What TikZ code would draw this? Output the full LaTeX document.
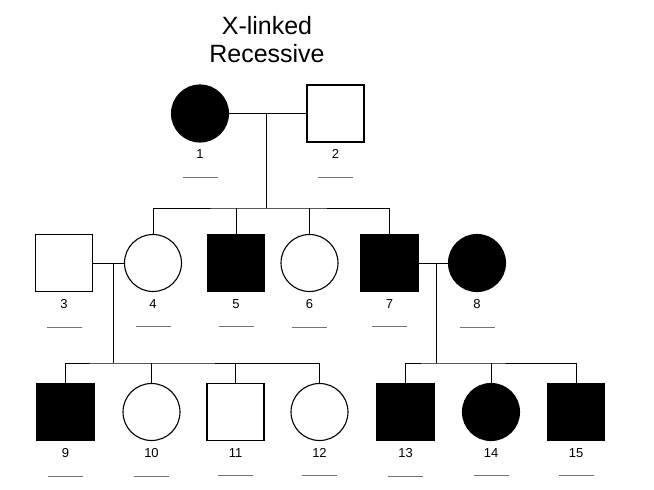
\documentclass[tikz,border=0pt]{standalone}
\usepackage{fontspec}
\setsansfont{Liberation Sans}
\usetikzlibrary{positioning}

\begin{document}
\begin{tikzpicture}[x=1pt, y=-1pt, line width=1pt, font=\sffamily]
    \tikzstyle{male}=[draw=black, rectangle, fill=white, minimum size=57pt, inner sep=0pt, line width=1.1pt]
    \tikzstyle{female}=[draw=black, circle, fill=white, minimum size=57pt, inner sep=0pt, line width=1.1pt]
    \tikzstyle{aff}=[fill=black]
    \tikzstyle{num}=[inner sep=0pt, font=\sffamily\fontsize{13}{15}\selectfont]
    \tikzstyle{bar}=[fill=black!55, minimum width=35pt, minimum height=0.8pt, inner sep=0pt]

    \useasboundingbox (0,0) rectangle (654,490);

    \node[align=center, font=\sffamily\fontsize{25}{28}\selectfont] (title) at (267,39.5) {X-linked\\Recessive};

    % generation I
    \node[female, aff] (p1) at (200,113.5) {};
    \node[male] (p2) at (335.5,113.5) {};

    % generation II
    \node[male] (p3) at (64,263) {};
    \node[female] (p4) at (153,263) {};
    \node[male, aff] (p5) at (236,263) {};
    \node[female] (p6) at (309.5,263) {};
    \node[male, aff] (p7) at (389.5,263) {};
    \node[female, aff] (p8) at (477,263) {};

    % generation III
    \node[male, aff] (p9) at (65.5,412) {};
    \node[female] (p10) at (151.5,412) {};
    \node[male] (p11) at (235.5,412) {};
    \node[female] (p12) at (319.5,412) {};
    \node[male, aff] (p13) at (405.5,412) {};
    \node[female, aff] (p14) at (491,412) {};
    \node[male, aff] (p15) at (576,412) {};

    % numbers and blanks
    \node[num, below=6.8pt of p1] (l1) {1};
    \node[num, below=6.8pt of p2] (l2) {2};
    \node[num, below=6.8pt of p3] (l3) {3};
    \node[num, below=6.8pt of p4] (l4) {4};
    \node[num, below=6.8pt of p5] (l5) {5};
    \node[num, below=6.8pt of p6] (l6) {6};
    \node[num, below=6.8pt of p7] (l7) {7};
    \node[num, below=6.8pt of p8] (l8) {8};
    \node[num, below=6.8pt of p9] (l9) {9};
    \node[num, below=6.8pt of p10] (l10) {10};
    \node[num, below=6.8pt of p11] (l11) {11};
    \node[num, below=6.8pt of p12] (l12) {12};
    \node[num, below=6.8pt of p13] (l13) {13};
    \node[num, below=6.8pt of p14] (l14) {14};
    \node[num, below=6.8pt of p15] (l15) {15};

    \node[bar, below=17pt of l1] (b1) {};
    \node[bar, below=17pt of l2] (b2) {};
    \node[bar, below=17pt of l3] (b3) {};
    \node[bar, below=17pt of l4] (b4) {};
    \node[bar, below=17pt of l5] (b5) {};
    \node[bar, below=17pt of l6] (b6) {};
    \node[bar, below=17pt of l7] (b7) {};
    \node[bar, below=17pt of l8] (b8) {};
    \node[bar, below=17pt of l9] (b9) {};
    \node[bar, below=17pt of l10] (b10) {};
    \node[bar, below=17pt of l11] (b11) {};
    \node[bar, below=17pt of l12] (b12) {};
    \node[bar, below=17pt of l13] (b13) {};
    \node[bar, below=17pt of l14] (b14) {};
    \node[bar, below=17pt of l15] (b15) {};

    % couples and sibships
    \coordinate (m12) at (266,113.5);
    \coordinate (s1) at (266,208);
    \coordinate (m34) at (113,263);
    \coordinate (s2) at (113,363);
    \coordinate (m78) at (436,263);
    \coordinate (s3) at (436,363);

    \draw (p1) -- (p2);
    \draw (m12) -- (s1);
    \draw (p4.north) |- (s1) -| (p7.north);
    \draw (p5.north) -- (p5.north |- s1);
    \draw (p6.north) -- (p6.north |- s1);

    \draw (p3) -- (p4);
    \draw (m34) -- (s2);
    \draw (p9.north) |- (s2) -| (p12.north);
    \draw (p10.north) -- (p10.north |- s2);
    \draw (p11.north) -- (p11.north |- s2);

    \draw (p7) -- (p8);
    \draw (m78) -- (s3);
    \draw (p13.north) |- (s3) -| (p15.north);
    \draw (p14.north) -- (p14.north |- s3);

\end{tikzpicture}
\end{document}
